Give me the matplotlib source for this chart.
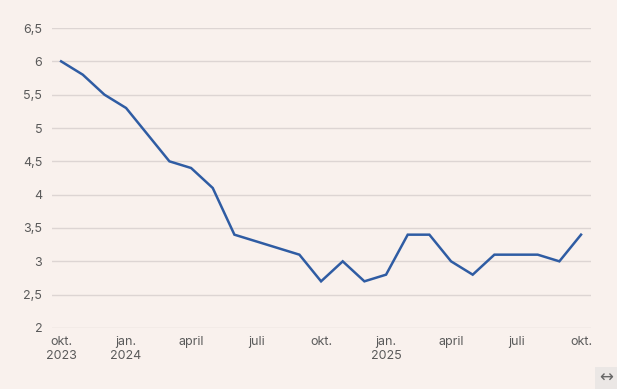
import matplotlib
matplotlib.use("Agg")
import matplotlib.pyplot as plt
from matplotlib.patches import Rectangle

months = list(range(25))
values = [6.0, 5.8, 5.5, 5.3, 4.9, 4.5, 4.4, 4.1, 3.4, 3.3, 3.2, 3.1,
          2.7, 3.0, 2.7, 2.8, 3.4, 3.4, 3.0, 2.8, 3.1, 3.1, 3.1, 3.0, 3.4]
xtick_pos = [0, 3, 6, 9, 12, 15, 18, 21, 24]
xtick_labels = ["okt.\n2023", "jan.\n2024", "april", "juli", "okt.",
                "jan.\n2025", "april", "juli", "okt."]
ytick_vals = [2, 2.5, 3, 3.5, 4, 4.5, 5, 5.5, 6, 6.5]
ytick_labels = ["2", "2,5", "3", "3,5", "4", "4,5", "5", "5,5", "6", "6,5"]

bg = "#f9f1ed"
plt.rcParams['font.family'] = ['Inter', 'DejaVu Sans']

fig = plt.figure(figsize=(6.17, 3.89), dpi=100, facecolor=bg)
ax = fig.add_axes([52/617, 1-328/389, (591-52)/617, 300/389])
ax.set_facecolor(bg)

ax.plot(months, values, color="#2f5ca3", lw=1.8, solid_joinstyle="miter", zorder=3)

ax.set_xlim(-0.42, 24.46)
ax.set_ylim(2, 6.5)
ax.set_yticks(ytick_vals)
ax.set_yticklabels(ytick_labels)
ax.set_xticks(xtick_pos)
ax.set_xticklabels(xtick_labels, linespacing=1.2)
ax.grid(axis="y", color="#ddd5d3", lw=1)
ax.set_axisbelow(True)
for s in ax.spines.values():
    s.set_visible(False)
ax.tick_params(axis="both", length=0, labelsize=9, colors="#5a5a5a")
ax.tick_params(axis="y", pad=7)
ax.tick_params(axis="x", pad=6)

fig.patches.append(Rectangle((595/617, 0), 22/617, 22/389, transform=fig.transFigure,
                             facecolor="#ebe7e5", edgecolor="none"))
fig.text(606/617, 11/389, "\u2194", ha="center", va="center", fontsize=12,
         color="#666666", family="DejaVu Sans")

fig.savefig("out.png", dpi=100, facecolor=bg)
